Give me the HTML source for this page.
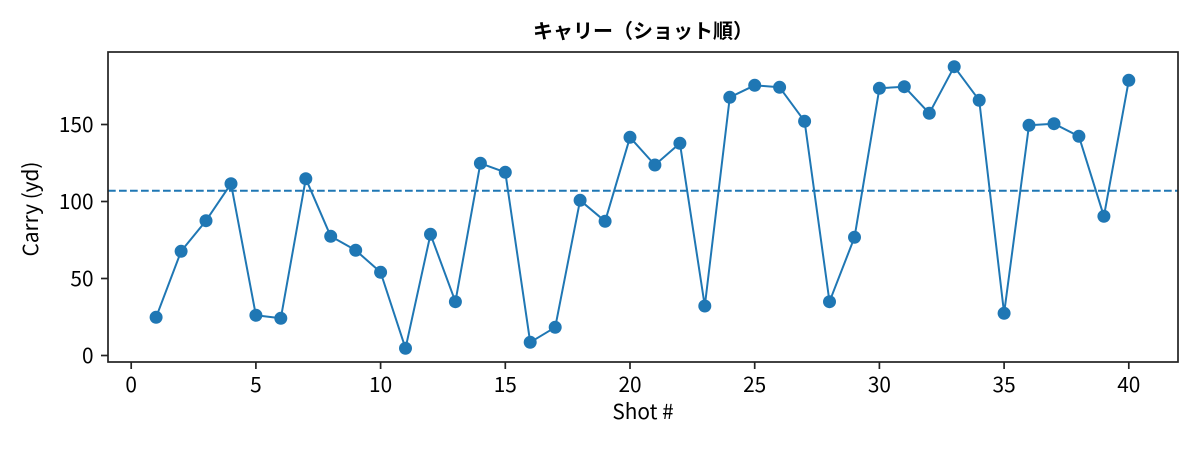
<!DOCTYPE html>
<html>
<head>
<meta charset="utf-8">
<style>
  html, body { margin: 0; padding: 0; background: #ffffff; }
  svg { display: block; }
  text { font-family: "Noto Sans CJK JP", "Liberation Sans", sans-serif; fill: #000; }
</style>
</head>
<body>
<svg width="1200" height="450" viewBox="0 0 1200 450" xmlns="http://www.w3.org/2000/svg">
  <rect x="0" y="0" width="1200" height="450" fill="#ffffff"/>

  <!-- title -->
  <text x="643" y="38" font-size="20" font-weight="bold" text-anchor="middle">キャリー（ショット順）</text>

  <!-- mean dashed line -->
  <line x1="108" y1="190.7" x2="1178" y2="190.7" stroke="#1f77b4" stroke-width="2" stroke-dasharray="7.7,3.3"/>

  <!-- series line -->
  <polyline fill="none" stroke="#1f77b4" stroke-width="2" stroke-linejoin="round" points="
    156.1,317.3 181.1,251.3 206.0,220.7 231.0,183.7 255.9,315.3 280.8,318.3 305.8,178.7 330.7,236.3 355.7,250.3 380.6,272.3
    405.5,348.3 430.5,234.3 455.4,301.7 480.4,163.3 505.3,172.3 530.2,342.3 555.2,327.3 580.1,200.3 605.1,221.3 630.0,137.3
    654.9,165.0 679.9,143.3 704.8,306.0 729.8,97.3 754.7,85.3 779.6,87.3 804.6,121.3 829.5,301.7 854.5,237.3 879.4,88.3
    904.3,86.7 929.3,113.3 954.2,66.7 979.2,100.3 1004.1,313.3 1029.0,125.3 1054.0,123.7 1078.9,136.3 1103.9,216.3 1128.8,80.3"/>

  <!-- markers -->
  <g fill="#1f77b4">
    <circle cx="156.1" cy="317.3" r="6.5"/><circle cx="181.1" cy="251.3" r="6.5"/><circle cx="206.0" cy="220.7" r="6.5"/><circle cx="231.0" cy="183.7" r="6.5"/>
    <circle cx="255.9" cy="315.3" r="6.5"/><circle cx="280.8" cy="318.3" r="6.5"/><circle cx="305.8" cy="178.7" r="6.5"/><circle cx="330.7" cy="236.3" r="6.5"/>
    <circle cx="355.7" cy="250.3" r="6.5"/><circle cx="380.6" cy="272.3" r="6.5"/><circle cx="405.5" cy="348.3" r="6.5"/><circle cx="430.5" cy="234.3" r="6.5"/>
    <circle cx="455.4" cy="301.7" r="6.5"/><circle cx="480.4" cy="163.3" r="6.5"/><circle cx="505.3" cy="172.3" r="6.5"/><circle cx="530.2" cy="342.3" r="6.5"/>
    <circle cx="555.2" cy="327.3" r="6.5"/><circle cx="580.1" cy="200.3" r="6.5"/><circle cx="605.1" cy="221.3" r="6.5"/><circle cx="630.0" cy="137.3" r="6.5"/>
    <circle cx="654.9" cy="165.0" r="6.5"/><circle cx="679.9" cy="143.3" r="6.5"/><circle cx="704.8" cy="306.0" r="6.5"/><circle cx="729.8" cy="97.3" r="6.5"/>
    <circle cx="754.7" cy="85.3" r="6.5"/><circle cx="779.6" cy="87.3" r="6.5"/><circle cx="804.6" cy="121.3" r="6.5"/><circle cx="829.5" cy="301.7" r="6.5"/>
    <circle cx="854.5" cy="237.3" r="6.5"/><circle cx="879.4" cy="88.3" r="6.5"/><circle cx="904.3" cy="86.7" r="6.5"/><circle cx="929.3" cy="113.3" r="6.5"/>
    <circle cx="954.2" cy="66.7" r="6.5"/><circle cx="979.2" cy="100.3" r="6.5"/><circle cx="1004.1" cy="313.3" r="6.5"/><circle cx="1029.0" cy="125.3" r="6.5"/>
    <circle cx="1054.0" cy="123.7" r="6.5"/><circle cx="1078.9" cy="136.3" r="6.5"/><circle cx="1103.9" cy="216.3" r="6.5"/><circle cx="1128.8" cy="80.3" r="6.5"/>
  </g>

  <!-- axes frame -->
  <rect x="108" y="52" width="1070" height="310" fill="none" stroke="#222" stroke-width="1.7"/>

  <!-- x ticks -->
  <g stroke="#222" stroke-width="1.7">
    <line x1="131.2" y1="362" x2="131.2" y2="369"/>
    <line x1="255.9" y1="362" x2="255.9" y2="369"/>
    <line x1="380.6" y1="362" x2="380.6" y2="369"/>
    <line x1="505.3" y1="362" x2="505.3" y2="369"/>
    <line x1="630.0" y1="362" x2="630.0" y2="369"/>
    <line x1="754.7" y1="362" x2="754.7" y2="369"/>
    <line x1="879.4" y1="362" x2="879.4" y2="369"/>
    <line x1="1004.1" y1="362" x2="1004.1" y2="369"/>
    <line x1="1128.8" y1="362" x2="1128.8" y2="369"/>
  </g>
  <g font-size="20.8" text-anchor="middle">
    <text x="131.2" y="392">0</text>
    <text x="255.9" y="392">5</text>
    <text x="380.6" y="392">10</text>
    <text x="505.3" y="392">15</text>
    <text x="630.0" y="392">20</text>
    <text x="754.7" y="392">25</text>
    <text x="879.4" y="392">30</text>
    <text x="1004.1" y="392">35</text>
    <text x="1128.8" y="392">40</text>
  </g>

  <!-- y ticks -->
  <g stroke="#222" stroke-width="1.7">
    <line x1="101" y1="355.5" x2="108" y2="355.5"/>
    <line x1="101" y1="278.5" x2="108" y2="278.5"/>
    <line x1="101" y1="201.5" x2="108" y2="201.5"/>
    <line x1="101" y1="124.5" x2="108" y2="124.5"/>
  </g>
  <g font-size="20.8" text-anchor="end">
    <text x="93.5" y="362.8">0</text>
    <text x="93.5" y="285.8">50</text>
    <text x="93.5" y="208.8">100</text>
    <text x="93.5" y="131.8">150</text>
  </g>

  <!-- axis labels -->
  <text x="643" y="419" font-size="20.8" text-anchor="middle">Shot #</text>
  <text transform="translate(38,209) rotate(-90)" font-size="20.8" text-anchor="middle">Carry (yd)</text>
</svg>
</body>
</html>
